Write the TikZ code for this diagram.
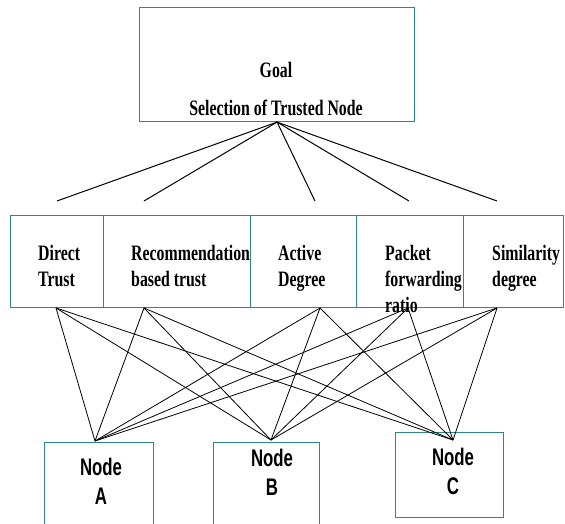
\documentclass[tikz,border=0pt]{standalone}
\usepackage{fontspec}
\newfontfamily\critfont[FakeStretch=0.72]{Liberation Serif}
\newfontfamily\nodefont[FakeStretch=0.7]{Liberation Sans}
\usetikzlibrary{positioning,calc}
\definecolor{boxteal}{RGB}{45,135,135}

\begin{document}
\begin{tikzpicture}[x=1pt,y=-1pt,
    box/.style={draw=boxteal, line width=1.1pt, rectangle, inner sep=0pt, anchor=north west},
    crit/.style={font=\critfont\bfseries\fontsize{22}{26}\selectfont, align=left, inner sep=0pt, anchor=north west},
    ntext/.style={font=\nodefont\bfseries\fontsize{24}{29}\selectfont, align=center, inner sep=0pt},
    link/.style={black, line width=0.8pt}]
\useasboundingbox (0,0) rectangle (565,524);

% goal
\node[box, minimum width=275pt, minimum height=114pt] (goal) at (139,7) {};
\node[crit, anchor=north, align=center, font=\critfont\bfseries\fontsize{22}{38}\selectfont] (goaltxt) at (276,62) {Goal\\Selection of Trusted Node};

% criteria
\foreach \n/\x/\w in {dt/10/93, rt/103/147, ad/250/106, pf/356/107, sd/463/100}
  \node[box, minimum width=\w pt, minimum height=92pt] (\n) at (\x,215) {};
\node[crit] (dtt) at (38,245) {Direct\\Trust};
\node[crit] (rtt) at (131,245) {Recommendation\\based trust};
\node[crit] (adt) at (278,245) {Active\\Degree};
\node[crit] (pft) at (385,245) {Packet\\forwarding\\ratio};
\node[crit] (sdt) at (492,245) {Similarity\\degree};

% alternatives
\node[box, minimum width=109pt, minimum height=100pt] (na) at (44,442) {};
\node[box, minimum width=106pt, minimum height=100pt] (nb) at (213,442) {};
\node[box, minimum width=108pt, minimum height=85pt] (nc) at (395,432) {};
\node[ntext] (nat) at (101,481) {Node\\A};
\node[ntext] (nbt) at (272,472) {Node\\B};
\node[ntext] (nct) at (453,471) {Node\\C};

\coordinate (e1) at (57,201);
\coordinate (e2) at (144,201);
\coordinate (e3) at (315,201);
\coordinate (e4) at (409,201);
\coordinate (e5) at (497,201);
\coordinate (b1) at (56,308);
\coordinate (b2) at (144,308);
\coordinate (b3) at (320,308);
\coordinate (b4) at (408,308);
\coordinate (b5) at (497,308);
\coordinate (ta) at (95,441);
\coordinate (tb) at (271,440);
\coordinate (tc) at (453,440);

\foreach \i in {1,...,5} \draw[link, line width=1pt] (goal.south) -- (e\i);
\foreach \i in {1,...,5} \foreach \t in {ta,tb,tc} \draw[link] (b\i) -- (\t);

\end{tikzpicture}
\end{document}
